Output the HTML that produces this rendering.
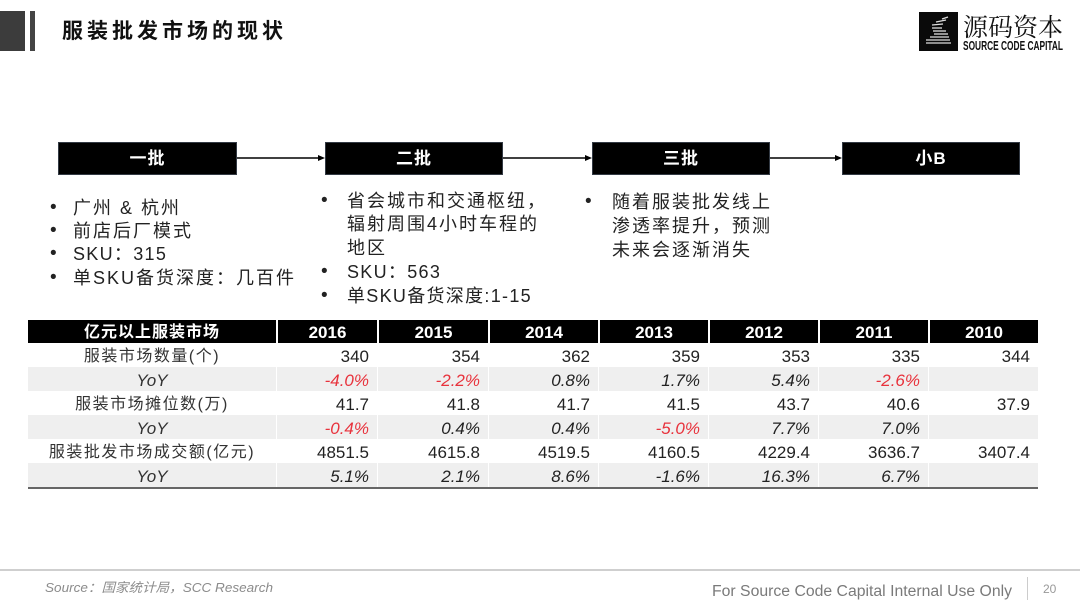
<!DOCTYPE html>
<html>
<head>
<meta charset="utf-8">
<style>
  html,body{margin:0;padding:0;background:#fff;}
  body{width:1080px;height:605px;position:relative;overflow:hidden;
       font-family:"Liberation Sans","Noto Sans CJK SC",sans-serif;color:#222;}
  .abs{position:absolute;}
  .box{position:absolute;top:142px;height:33px;background:#000;border:1px solid #333a44;box-sizing:border-box;
       color:#fff;font-weight:bold;font-size:17px;line-height:31px;text-align:center;letter-spacing:1px;}
  .bul{position:absolute;font-size:18px;line-height:24px;letter-spacing:2px;color:#222;white-space:nowrap;}
  .dot{position:absolute;font-size:19px;line-height:24px;color:#222;}
  .row{position:absolute;left:28px;width:1010px;display:flex;}
  .row div{box-sizing:border-box;white-space:nowrap;overflow:hidden;}
  .hdr{top:320px;height:23px;background:#000;}
  .hdr div{color:#fff;font-weight:bold;font-size:17px;line-height:23px;padding-top:1px;text-align:center;border-left:2px solid #fff;}
  .hdr div:first-child{border-left:none;font-size:16px;letter-spacing:1px;}
  .r{height:24px;}
  .r div{font-size:17px;line-height:24px;padding-top:2px;text-align:right;padding-right:8px;color:#222;}
  .r div:first-child{text-align:center;padding-right:0;font-size:16px;letter-spacing:1.5px;color:#333;}
  .g{background:#efefef;}
  .g div{border-left:1px solid #fff;font-style:italic;}
  .g div:first-child{border-left:none;font-style:italic;font-size:17px;letter-spacing:0;}
  .neg{color:#e8323c !important;}
  .c1{width:248px;} .c2{width:101px;} .c3{width:111px;} .c4{width:110px;}
</style>
</head>
<body>

<!-- header bars -->
<div class="abs" style="left:0;top:11px;width:25px;height:40px;background:#3c3c3c;"></div>
<div class="abs" style="left:30px;top:11px;width:5px;height:40px;background:#444;"></div>
<div class="abs" style="left:62px;top:18px;font-size:21px;line-height:28px;font-weight:bold;letter-spacing:4px;color:#111;font-family:'Liberation Sans','Noto Sans CJK SC',sans-serif;">服装批发市场的现状</div>

<!-- logo -->
<svg class="abs" style="left:915px;top:8px;" width="165" height="50" viewBox="915 8 165 50">
  <rect x="919" y="12" width="39" height="39" fill="#0a0a0a"/>
  <g stroke="#ddd" stroke-width="1.3">
    <line x1="942" y1="19" x2="948" y2="17"/>
    <line x1="936" y1="22" x2="946" y2="20"/>
    <line x1="932" y1="25" x2="943" y2="24"/>
    <line x1="932" y1="28" x2="942" y2="28"/>
    <line x1="933" y1="31" x2="946" y2="31"/>
    <line x1="934" y1="34" x2="948" y2="34"/>
    <line x1="930" y1="37" x2="949" y2="37"/>
    <line x1="926" y1="40" x2="950" y2="40"/>
    <line x1="926" y1="43" x2="951" y2="43"/>
  </g>
  <text x="963" y="36" font-family="'Liberation Serif','Noto Serif CJK SC',serif" font-size="25" fill="#111" textLength="100" lengthAdjust="spacingAndGlyphs">源码资本</text>
  <text x="963" y="50" font-family="'Liberation Sans',sans-serif" font-weight="bold" font-size="13" fill="#111" textLength="100" lengthAdjust="spacingAndGlyphs">SOURCE CODE CAPITAL</text>
</svg>

<!-- flow boxes -->
<div class="box" style="left:58px;width:179px;">一批</div>
<div class="box" style="left:325px;width:178px;">二批</div>
<div class="box" style="left:592px;width:178px;">三批</div>
<div class="box" style="left:842px;width:178px;">小B</div>

<svg class="abs" style="left:0;top:0;" width="1080" height="200">
  <g stroke="#000" stroke-width="1.5">
    <line x1="237" y1="158" x2="320" y2="158"/>
    <line x1="503" y1="158" x2="587" y2="158"/>
    <line x1="770" y1="158" x2="837" y2="158"/>
  </g>
  <g fill="#000">
    <polygon points="325,158 318,155 318,161"/>
    <polygon points="592,158 585,155 585,161"/>
    <polygon points="842,158 835,155 835,161"/>
  </g>
</svg>

<!-- bullets col 1 -->
<div class="dot" style="left:50px;top:196px;">•</div><div class="bul" style="left:73px;top:196px;">广州 &amp; 杭州</div>
<div class="dot" style="left:50px;top:219px;">•</div><div class="bul" style="left:73px;top:219px;">前店后厂模式</div>
<div class="dot" style="left:50px;top:242px;">•</div><div class="bul" style="left:73px;top:242px;letter-spacing:1.3px;">SKU：315</div>
<div class="dot" style="left:50px;top:266px;">•</div><div class="bul" style="left:73px;top:266px;letter-spacing:2px;">单SKU备货深度：几百件</div>

<!-- bullets col 2 -->
<div class="dot" style="left:321px;top:189px;">•</div><div class="bul" style="left:347px;top:189px;">省会城市和交通枢纽，</div>
<div class="bul" style="left:347px;top:212px;">辐射周围4小时车程的</div>
<div class="bul" style="left:347px;top:236px;">地区</div>
<div class="dot" style="left:321px;top:260px;">•</div><div class="bul" style="left:347px;top:260px;letter-spacing:1.3px;">SKU：563</div>
<div class="dot" style="left:321px;top:284px;">•</div><div class="bul" style="left:347px;top:284px;letter-spacing:1.3px;">单SKU备货深度:1-15</div>

<!-- bullets col 3 -->
<div class="dot" style="left:585px;top:190px;">•</div><div class="bul" style="left:612px;top:190px;">随着服装批发线上</div>
<div class="bul" style="left:612px;top:214px;">渗透率提升，预测</div>
<div class="bul" style="left:612px;top:238px;">未来会逐渐消失</div>

<!-- table -->
<div class="row hdr">
  <div class="c1">亿元以上服装市场</div><div class="c2">2016</div><div class="c3">2015</div><div class="c4">2014</div><div class="c4">2013</div><div class="c4">2012</div><div class="c4">2011</div><div class="c4">2010</div>
</div>
<div class="row r" style="top:343px;">
  <div class="c1">服装市场数量(个)</div><div class="c2">340</div><div class="c3">354</div><div class="c4">362</div><div class="c4">359</div><div class="c4">353</div><div class="c4">335</div><div class="c4">344</div>
</div>
<div class="row r g" style="top:367px;">
  <div class="c1">YoY</div><div class="c2 neg">-4.0%</div><div class="c3 neg">-2.2%</div><div class="c4">0.8%</div><div class="c4">1.7%</div><div class="c4">5.4%</div><div class="c4 neg">-2.6%</div><div class="c4"></div>
</div>
<div class="row r" style="top:391px;">
  <div class="c1">服装市场摊位数(万)</div><div class="c2">41.7</div><div class="c3">41.8</div><div class="c4">41.7</div><div class="c4">41.5</div><div class="c4">43.7</div><div class="c4">40.6</div><div class="c4">37.9</div>
</div>
<div class="row r g" style="top:415px;">
  <div class="c1">YoY</div><div class="c2 neg">-0.4%</div><div class="c3">0.4%</div><div class="c4">0.4%</div><div class="c4 neg">-5.0%</div><div class="c4">7.7%</div><div class="c4">7.0%</div><div class="c4"></div>
</div>
<div class="row r" style="top:439px;">
  <div class="c1">服装批发市场成交额(亿元)</div><div class="c2">4851.5</div><div class="c3">4615.8</div><div class="c4">4519.5</div><div class="c4">4160.5</div><div class="c4">4229.4</div><div class="c4">3636.7</div><div class="c4">3407.4</div>
</div>
<div class="row r g" style="top:463px;">
  <div class="c1">YoY</div><div class="c2">5.1%</div><div class="c3">2.1%</div><div class="c4">8.6%</div><div class="c4">-1.6%</div><div class="c4">16.3%</div><div class="c4">6.7%</div><div class="c4"></div>
</div>
<div class="abs" style="left:28px;top:487px;width:1010px;height:2px;background:#666;"></div>

<!-- footer -->
<div class="abs" style="left:0;top:569px;width:1080px;height:2px;background:#cfcfcf;"></div>
<svg class="abs" style="left:0;top:570px;" width="1080" height="35" viewBox="0 570 1080 35">
  <text x="45" y="592" font-family="'Liberation Sans','Noto Sans CJK SC',sans-serif" font-style="italic" font-size="13" fill="#8c8c8c" textLength="228" lengthAdjust="spacingAndGlyphs">Source：国家统计局，SCC Research</text>
  <text x="712" y="596" font-family="'Liberation Sans',sans-serif" font-size="15.5" fill="#7a7a7a" textLength="300" lengthAdjust="spacingAndGlyphs">For Source Code Capital Internal Use Only</text>
  <line x1="1027.5" y1="577" x2="1027.5" y2="600" stroke="#cccccc" stroke-width="1"/>
  <text x="1043" y="593" font-family="'Liberation Sans',sans-serif" font-size="12" fill="#999">20</text>
</svg>

</body>
</html>
